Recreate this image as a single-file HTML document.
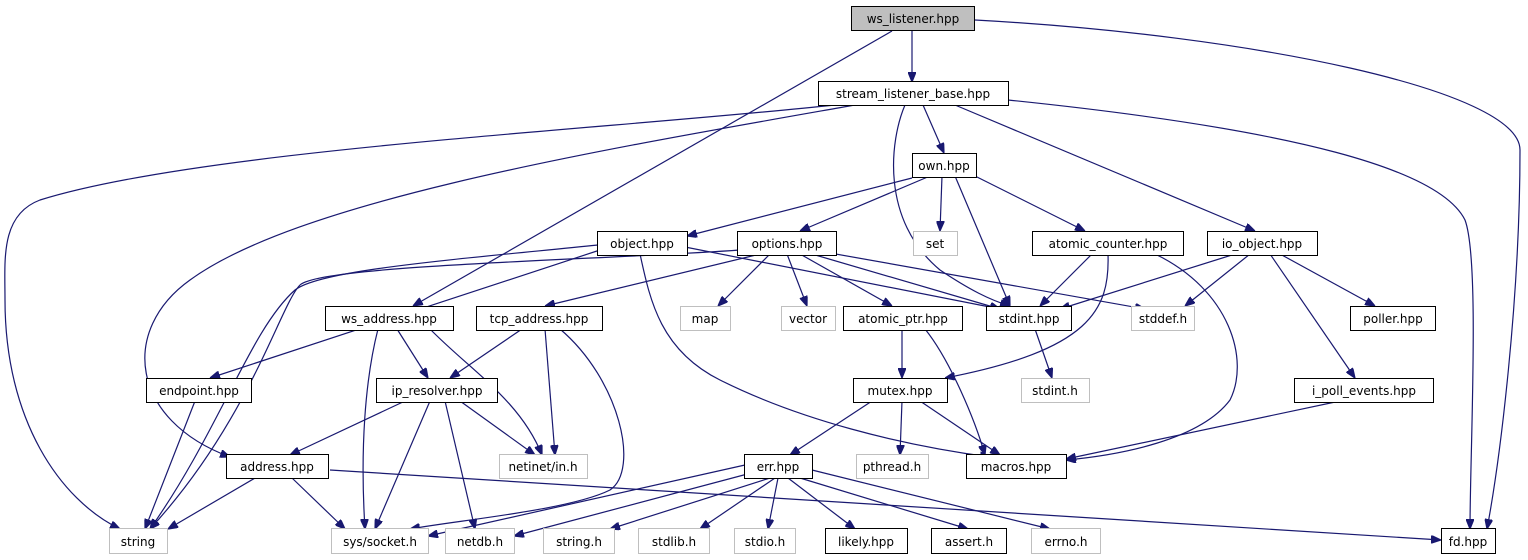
<!DOCTYPE html>
<html><head><style>
body{margin:0;background:#fff}
svg{display:block}
text{font-family:"DejaVu Sans","Liberation Sans",sans-serif;font-size:12px;text-anchor:middle}
.b rect{fill:#fff;stroke:#000;stroke-width:1}
.g rect{fill:#fff;stroke:#bfbfbf;stroke-width:1}
.g text{fill:#000}
path{fill:none;stroke:#191970;stroke-width:1.2}
</style></head><body>
<svg width="1528" height="560" viewBox="0 0 1528 560">
<defs><marker id="a" viewBox="0 0 10 8" refX="10" refY="4" markerWidth="10" markerHeight="8" markerUnits="userSpaceOnUse" orient="auto"><path d="M0,0L10,4L0,8z" style="fill:#191970;stroke:#191970"/></marker></defs>
<g marker-end="url(#a)">
<path d="M912,31L912,82"/>
<path d="M892,31L413,306"/>
<path d="M975,20C1250,35 1520,90 1520,150 C1520,300 1500,460 1487,529"/>
<path d="M835,105C600,130 200,150 40,200 C0,215 5,260 5,300 C5,420 60,500 120,529"/>
<path d="M855,105C600,150 300,200 190,280 C120,330 130,420 230,457"/>
<path d="M905,105C890,140 880,220 940,270 C970,290 990,300 1010,306"/>
<path d="M923,105L944,153"/>
<path d="M955,105L1255,231"/>
<path d="M1008,100C1300,130 1440,170 1465,220 C1480,260 1470,450 1470,529"/>
<path d="M912,178L687,236"/>
<path d="M930,176L800,231"/>
<path d="M942,176L940,231"/>
<path d="M955,176L1010,306"/>
<path d="M975,176L1085,231"/>
<path d="M598,245C450,260 320,270 295,290 C250,330 220,430 150,529"/>
<path d="M600,250L210,378"/>
<path d="M685,247L1000,309"/>
<path d="M640,254C650,300 660,350 720,380 C800,420 900,445 990,457"/>
<path d="M740,250C600,260 320,265 300,285 C280,305 250,420 150,529"/>
<path d="M760,254L545,306"/>
<path d="M770,254L718,306"/>
<path d="M787,254L807,306"/>
<path d="M800,254L892,306"/>
<path d="M812,254L1000,309"/>
<path d="M830,253L1145,309"/>
<path d="M1092,254L1040,306"/>
<path d="M1108,254C1110,310 1090,350 945,378"/>
<path d="M1155,254C1230,290 1250,360 1230,400 C1200,440 1120,455 1066,460"/>
<path d="M1235,254L1060,309"/>
<path d="M1250,254L1185,306"/>
<path d="M1280,254L1375,306"/>
<path d="M1270,254L1355,378"/>
<path d="M397,329L428,378"/>
<path d="M430,329C470,370 520,400 542,455"/>
<path d="M378,329C365,380 360,450 365,529"/>
<path d="M522,329L450,378"/>
<path d="M545,329L555,455"/>
<path d="M560,329C620,380 640,470 610,490 C570,510 460,520 410,529"/>
<path d="M902,329L902,378"/>
<path d="M925,329C950,360 975,420 985,455"/>
<path d="M1035,329L1052,378"/>
<path d="M195,401L145,529"/>
<path d="M405,401L290,455"/>
<path d="M460,401L535,455"/>
<path d="M430,401L375,529"/>
<path d="M445,401L475,529"/>
<path d="M872,401L790,455"/>
<path d="M902,401L900,455"/>
<path d="M920,401L1000,455"/>
<path d="M1340,401L1066,459"/>
<path d="M255,478L168,529"/>
<path d="M292,478L345,529"/>
<path d="M330,470L1441,540"/>
<path d="M745,465L428,536"/>
<path d="M755,472L514,536"/>
<path d="M770,478L610,529"/>
<path d="M775,478L700,529"/>
<path d="M778,478L768,529"/>
<path d="M788,478L855,529"/>
<path d="M800,478L968,529"/>
<path d="M812,470L1050,529"/>
</g>
<g class="b"><rect x="851.5" y="6.5" width="123" height="24" style="fill:#bfbfbf"/><text x="913" y="23">ws_listener.hpp</text></g>
<g class="b"><rect x="818.5" y="81.5" width="190" height="24"/><text x="913" y="98">stream_listener_base.hpp</text></g>
<g class="b"><rect x="912.5" y="153.5" width="64" height="24"/><text x="944" y="170">own.hpp</text></g>
<g class="b"><rect x="597.5" y="231.5" width="90" height="24"/><text x="642" y="248">object.hpp</text></g>
<g class="b"><rect x="737.5" y="231.5" width="99" height="24"/><text x="787" y="248">options.hpp</text></g>
<g class="g"><rect x="913.5" y="231.5" width="44" height="24"/><text x="935" y="248" style="fill:#000">set</text></g>
<g class="b"><rect x="1032.5" y="231.5" width="151" height="24"/><text x="1108" y="248">atomic_counter.hpp</text></g>
<g class="b"><rect x="1207.5" y="231.5" width="110" height="24"/><text x="1262" y="248">io_object.hpp</text></g>
<g class="b"><rect x="325.5" y="306.5" width="128" height="24"/><text x="389" y="323">ws_address.hpp</text></g>
<g class="b"><rect x="476.5" y="306.5" width="126" height="24"/><text x="539" y="323">tcp_address.hpp</text></g>
<g class="g"><rect x="680.5" y="306.5" width="50" height="24"/><text x="705" y="323">map</text></g>
<g class="g"><rect x="781.5" y="306.5" width="54" height="24"/><text x="808" y="323">vector</text></g>
<g class="b"><rect x="843.5" y="306.5" width="119" height="24"/><text x="903" y="323">atomic_ptr.hpp</text></g>
<g class="b"><rect x="986.5" y="306.5" width="85" height="24"/><text x="1029" y="323">stdint.hpp</text></g>
<g class="g"><rect x="1131.5" y="306.5" width="63" height="24"/><text x="1163" y="323">stddef.h</text></g>
<g class="b"><rect x="1350.5" y="306.5" width="85" height="24"/><text x="1393" y="323">poller.hpp</text></g>
<g class="b"><rect x="146.5" y="378.5" width="105" height="24"/><text x="199" y="395">endpoint.hpp</text></g>
<g class="b"><rect x="376.5" y="378.5" width="121" height="24"/><text x="437" y="395">ip_resolver.hpp</text></g>
<g class="b"><rect x="853.5" y="378.5" width="94" height="24"/><text x="900" y="395">mutex.hpp</text></g>
<g class="g"><rect x="1021.5" y="378.5" width="68" height="24"/><text x="1055" y="395">stdint.h</text></g>
<g class="b"><rect x="1294.5" y="378.5" width="139" height="24"/><text x="1364" y="395">i_poll_events.hpp</text></g>
<g class="b"><rect x="226.5" y="454.5" width="102" height="24"/><text x="277" y="471">address.hpp</text></g>
<g class="g"><rect x="499.5" y="454.5" width="88" height="24"/><text x="543" y="471">netinet/in.h</text></g>
<g class="b"><rect x="744.5" y="454.5" width="68" height="24"/><text x="778" y="471">err.hpp</text></g>
<g class="g"><rect x="856.5" y="454.5" width="72" height="24"/><text x="892" y="471">pthread.h</text></g>
<g class="b"><rect x="966.5" y="454.5" width="100" height="24"/><text x="1016" y="471">macros.hpp</text></g>
<g class="g"><rect x="109.5" y="528.5" width="58" height="25"/><text x="138" y="546">string</text></g>
<g class="g"><rect x="331.5" y="528.5" width="97" height="25"/><text x="380" y="546">sys/socket.h</text></g>
<g class="g"><rect x="445.5" y="528.5" width="69" height="25"/><text x="480" y="546">netdb.h</text></g>
<g class="g"><rect x="543.5" y="528.5" width="71" height="25"/><text x="579" y="546">string.h</text></g>
<g class="g"><rect x="638.5" y="528.5" width="71" height="25"/><text x="674" y="546">stdlib.h</text></g>
<g class="g"><rect x="734.5" y="528.5" width="61" height="25"/><text x="765" y="546">stdio.h</text></g>
<g class="b"><rect x="825.5" y="528.5" width="82" height="25"/><text x="866" y="546">likely.hpp</text></g>
<g class="b"><rect x="931.5" y="528.5" width="75" height="25"/><text x="969" y="546">assert.h</text></g>
<g class="g"><rect x="1031.5" y="528.5" width="69" height="25"/><text x="1066" y="546">errno.h</text></g>
<g class="b"><rect x="1441.5" y="528.5" width="54" height="25"/><text x="1468" y="546">fd.hpp</text></g>
</svg>
</body></html>
